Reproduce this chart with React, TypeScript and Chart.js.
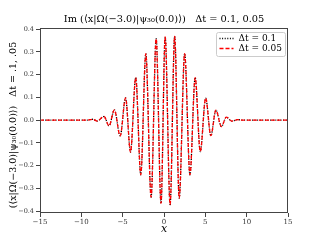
import React, { useEffect, useRef } from 'react';
import { Chart, registerables } from 'chart.js';

Chart.register(...registerables);

// Δt = 0.1 series (x positions and values)
const xDt01 = [-15, -9.3, -8.6, -8.1, -7.25, -6.65, -6.0, -5.3, -4.65, -4.05, -3.42, -2.81, -2.2, -1.56, -0.95, -0.36, 0.14, 0.74, 1.29, 1.84, 2.5, 3.14, 3.77, 4.39, 5.04, 5.67, 6.28, 6.94, 7.54, 8.2, 8.9, 9.6, 15];
const yDt01 = [0, 0, 0.004, -0.004, 0.016, -0.025, 0.045, -0.069, 0.098, -0.14, 0.187, -0.24, 0.292, -0.338, 0.358, -0.366, 0.366, -0.371, 0.368, -0.342, 0.292, -0.24, 0.187, -0.138, 0.097, -0.068, 0.044, -0.028, 0.013, -0.004, 0.002, 0, 0];

// Δt = 0.05 series
const xDt005 = [-15, -9.3, -8.6, -8.1, -7.25, -6.65, -6.0, -5.3, -4.65, -4.05, -3.42, -2.81, -2.2, -1.56, -0.95, -0.36, 0.14, 0.74, 1.29, 1.84, 2.5, 3.14, 3.77, 4.39, 5.04, 5.67, 6.28, 6.94, 7.54, 8.2, 8.9, 9.6, 15];
const yDt005 = [0, 0, 0.004, -0.004, 0.016, -0.025, 0.045, -0.069, 0.098, -0.14, 0.187, -0.24, 0.292, -0.338, 0.358, -0.366, 0.366, -0.371, 0.368, -0.342, 0.292, -0.24, 0.187, -0.138, 0.097, -0.068, 0.044, -0.028, 0.013, -0.004, 0.002, 0, 0];

const seriesLabels = ['\u0394t = 0.1', '\u0394t = 0.05'];
const xTickVals = [-15, -10, -5, 0, 5, 10, 15];
const yTickVals = [-0.4, -0.3, -0.2, -0.1, 0, 0.1, 0.2, 0.3, 0.4];
const titleText = 'Im (\u27E8x|\u03A9(\u22123.0)|\u03C8\u2083\u2080(0.0)\u27E9)   \u0394t = 0.1, 0.05';
const yTitleText = '(\u27E8x|\u03A9(\u22123.0)|\u03C8\u2083\u2080(0.0)\u27E9)   \u0394t = .1, .05   ';
const xTitleText = 'x';

const SERIF = '"DejaVu Serif", "Liberation Serif", serif';

const fmt = (v: number, d: number) => {
  const s = Math.abs(v).toFixed(d);
  return v < -1e-9 ? '\u2212' + s : s;
};

const toPoints = (xs: number[], ys: number[]) => xs.map((x, i) => ({ x, y: ys[i] }));

const frameTitleLegend = {
  id: 'frameTitleLegend',
  afterDraw(chart: any) {
    const { ctx, chartArea } = chart;
    const { left, right, top, bottom } = chartArea;
    ctx.save();
    ctx.strokeStyle = '#444444';
    ctx.lineWidth = 1;
    ctx.strokeRect(Math.round(left) + 0.5, Math.round(top) + 0.5, Math.round(right - left) - 1, Math.round(bottom - top) - 1);

    // title centred over the axes
    ctx.fillStyle = '#000';
    ctx.font = '9.8px ' + SERIF;
    ctx.textAlign = 'center';
    ctx.textBaseline = 'middle';
    ctx.fillText(titleText, (left + right) / 2, top - 9);

    // legend box (upper right, inside axes)
    const bw = 69;
    const bh = 24;
    const bx = right - bw - 2.5;
    const by = top + 4.5;
    ctx.fillStyle = 'rgba(255,255,255,0.85)';
    ctx.strokeStyle = '#cccccc';
    ctx.beginPath();
    if ((ctx as any).roundRect) (ctx as any).roundRect(bx, by, bw, bh, 2);
    else ctx.rect(bx, by, bw, bh);
    ctx.fill();
    ctx.stroke();

    const rows = [by + 5.5, by + 15.5];
    chart.data.datasets.forEach((ds: any, i: number) => {
      const y = Math.round(rows[i]) + 0.5;
      ctx.strokeStyle = ds.borderColor;
      ctx.lineWidth = ds.borderWidth;
      ctx.setLineDash(ds.borderDash || []);
      ctx.beginPath();
      ctx.moveTo(bx + 3, y);
      ctx.lineTo(bx + 17, y);
      ctx.stroke();
      ctx.setLineDash([]);
      ctx.fillStyle = '#000';
      ctx.font = '9px ' + SERIF;
      ctx.textBaseline = 'middle';
      ctx.textAlign = 'left';
      ctx.fillText(ds.label, bx + 22, y);
    });
    ctx.restore();
  },
};

export default function App() {
  const canvasRef = useRef<HTMLCanvasElement | null>(null);

  useEffect(() => {
    if (!canvasRef.current) return;
    const chart = new Chart(canvasRef.current, {
      type: 'line',
      data: {
        datasets: [
          {
            label: seriesLabels[0],
            data: toPoints(xDt01, yDt01),
            borderColor: '#000000',
            borderWidth: 1.3,
            borderDash: [1, 1.6],
            pointRadius: 0,
            fill: false,
            cubicInterpolationMode: 'monotone',
            order: 1,
          },
          {
            label: seriesLabels[1],
            data: toPoints(xDt005, yDt005),
            borderColor: '#ff0000',
            borderWidth: 1.3,
            borderDash: [4, 2],
            pointRadius: 0,
            fill: false,
            cubicInterpolationMode: 'monotone',
            order: 0,
          },
        ],
      },
      options: {
        animation: false,
        responsive: true,
        maintainAspectRatio: false,
        parsing: true,
        layout: { padding: { left: 0, right: 32, top: 28, bottom: 0 } },
        plugins: {
          legend: { display: false },
          tooltip: { enabled: false },
          title: { display: false },
        },
        scales: {
          x: {
            type: 'linear',
            min: -15,
            max: 15,
            afterFit: (s: any) => { s.height = 27; },
            afterBuildTicks: (s: any) => { s.ticks = xTickVals.map((v) => ({ value: v })); },
            grid: { display: true, drawOnChartArea: false, drawTicks: true, tickLength: 4, color: '#444' },
            border: { display: false },
            ticks: {
              color: '#333',
              font: { family: SERIF, size: 7 },
              padding: 1,
              maxRotation: 0,
              autoSkip: false,
              callback: (v: any) => fmt(Number(v), 0),
            },
            title: {
              display: true,
              text: xTitleText,
              color: '#000',
              font: { family: SERIF, size: 11, style: 'italic', lineHeight: 1.2 },
              padding: { top: 0, bottom: 4 },
            },
          },
          y: {
            type: 'linear',
            min: -0.408,
            max: 0.405,
            afterFit: (s: any) => { s.width = 40; },
            afterBuildTicks: (s: any) => { s.ticks = yTickVals.map((v) => ({ value: v })); },
            grid: { display: true, drawOnChartArea: false, drawTicks: true, tickLength: 4, color: '#444' },
            border: { display: false },
            ticks: {
              color: '#333',
              font: { family: SERIF, size: 6.5 },
              padding: 2,
              autoSkip: false,
              callback: (v: any) => fmt(Number(v), 1),
            },
            title: {
              display: true,
              text: yTitleText,
              color: '#000',
              font: { family: SERIF, size: 9.5, lineHeight: 1.2 },
              padding: { top: 8, bottom: 0 },
            },
          },
        },
      } as any,
      plugins: [frameTitleLegend],
    });
    return () => chart.destroy();
  }, []);

  return (
    <div style={{ position: 'fixed', left: 0, top: 0, width: 320, height: 240, background: '#fff' }}>
      <canvas ref={canvasRef} />
    </div>
  );
}
